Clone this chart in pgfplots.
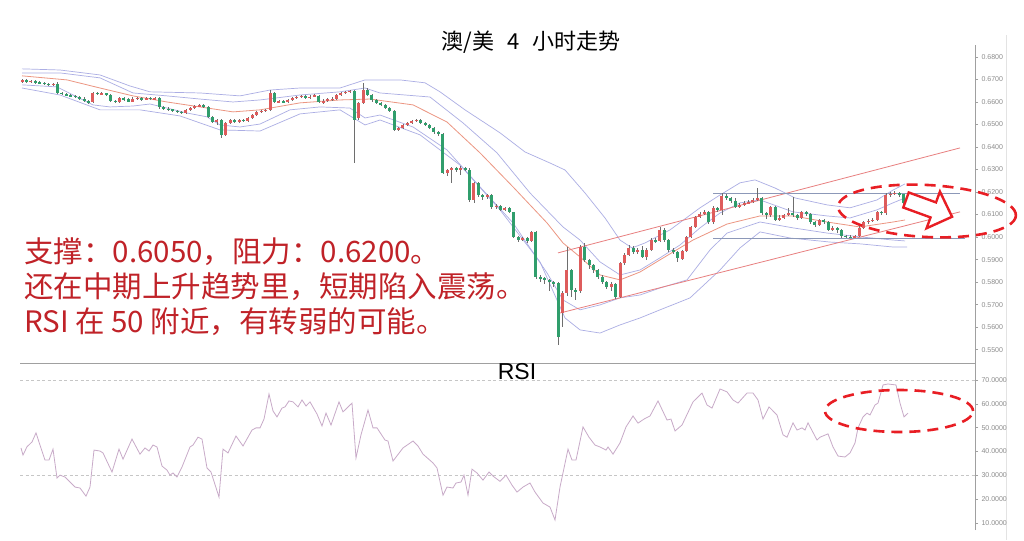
\documentclass[border=0pt]{standalone}
\usepackage{fontspec}
\setmainfont{Liberation Sans}
\newfontfamily\cjk{Noto Sans CJK SC}
\usepackage{pgfplots}
\usepackage{pgfplotstable}
\pgfplotsset{compat=1.18}
\definecolor{upc}{RGB}{222,92,92}
\definecolor{dnc}{RGB}{48,158,108}
\definecolor{wickc}{RGB}{110,110,110}
\definecolor{lav}{RGB}{172,174,228}
\definecolor{mac}{RGB}{236,150,130}
\definecolor{chan}{RGB}{232,128,128}
\definecolor{hlc}{RGB}{140,152,184}
\definecolor{rsic}{RGB}{200,170,200}
\definecolor{axg}{RGB}{160,160,160}
\definecolor{tlab}{RGB}{140,140,140}
\definecolor{annot}{RGB}{192,34,40}
\definecolor{ell}{RGB}{232,30,36}

\pgfplotstableread{
o h l c
6690 6700 6685 6695
6695 6700 6685 6690
6690 6698 6684 6692
6692 6697 6682 6688
6688 6694 6680 6685
6685 6690 6675 6680
6680 6686 6670 6676
6676 6684 6670 6680
6682 6690 6636 6640
6640 6645 6630 6636
6636 6640 6625 6630
6630 6636 6620 6627
6627 6632 6617 6622
6622 6627 6610 6615
6615 6620 6600 6605
6605 6610 6592 6598
6598 6645 6595 6640
6640 6646 6630 6636
6636 6644 6630 6638
6638 6642 6626 6632
6632 6636 6600 6605
6605 6610 6596 6600
6600 6622 6596 6618
6618 6622 6606 6612
6612 6618 6598 6602
6602 6620 6598 6614
6614 6624 6610 6618
6618 6622 6606 6612
6612 6624 6608 6618
6618 6622 6608 6614
6614 6622 6608 6616
6616 6620 6570 6576
6576 6580 6564 6570
6570 6576 6560 6566
6566 6570 6556 6562
6562 6566 6550 6556
6556 6560 6546 6551
6551 6570 6548 6565
6565 6578 6560 6574
6574 6586 6570 6580
6580 6590 6576 6585
6585 6590 6572 6578
6578 6582 6528 6534
6534 6540 6505 6511
6511 6526 6500 6522
6522 6526 6440 6454
6454 6512 6450 6507
6507 6525 6500 6520
6520 6525 6505 6511
6511 6526 6506 6520
6520 6524 6510 6516
6516 6534 6512 6529
6529 6548 6525 6542
6542 6560 6538 6556
6556 6566 6550 6560
6560 6570 6555 6565
6565 6655 6560 6640
6640 6644 6595 6600
6600 6610 6596 6604
6604 6610 6594 6600
6600 6614 6596 6609
6609 6622 6605 6618
6618 6628 6614 6622
6622 6632 6616 6627
6627 6632 6612 6618
6618 6630 6612 6624
6624 6634 6620 6628
6628 6630 6594 6598
6598 6612 6592 6606
6606 6618 6600 6610
6610 6620 6606 6614
6614 6636 6608 6631
6631 6646 6626 6640
6640 6650 6636 6645
6645 6655 6640 6650
6648 6654 6329 6520
6530 6600 6520 6596
6596 6685 6590 6653
6653 6660 6626 6631
6631 6636 6600 6609
6609 6614 6590 6596
6596 6600 6580 6587
6587 6592 6568 6574
6574 6580 6555 6560
6560 6565 6470 6476
6476 6490 6470 6485
6485 6502 6480 6498
6498 6512 6494 6507
6507 6520 6502 6516
6516 6526 6510 6520
6520 6525 6500 6507
6507 6512 6492 6498
6498 6502 6478 6485
6485 6490 6460 6467
6467 6470 6450 6458
6458 6462 6280 6285
6285 6303 6270 6298
6298 6312 6240 6307
6307 6312 6290 6298
6298 6315 6275 6307
6307 6312 6292 6300
6300 6305 6158 6165
6165 6246 6150 6241
6241 6246 6180 6187
6187 6192 6165 6178
6178 6192 6170 6187
6187 6192 6125 6134
6134 6145 6125 6138
6138 6142 6115 6121
6121 6135 6115 6130
6130 6135 6105 6110
6110 6112 5995 6001
6001 6005 5980 5987
5987 6002 5982 5996
5996 6000 5975 5983
5983 6028 5978 6023
6023 6028 5815 5823
5823 5830 5800 5818
5818 5825 5790 5810
5810 5815 5760 5800
5800 5805 5780 5796
5796 5800 5521 5557
5663 5760 5600 5752
5752 5956 5740 5854
5854 5860 5735 5765
5765 5775 5720 5760
5760 5965 5750 5956
5956 5975 5890 5899
5899 5905 5860 5876
5876 5880 5840 5854
5854 5860 5815 5823
5823 5830 5790 5800
5800 5805 5770 5779
5779 5800 5760 5790
5790 5795 5725 5734
5734 5890 5730 5885
5885 5930 5875 5921
5921 5965 5915 5952
5952 5960 5925 5935
5935 5950 5925 5943
5943 5960 5905 5910
5910 5950 5900 5945
5945 5995 5940 5987
5987 5995 5975 5982
5982 6045 5978 6032
6032 6040 5980 5987
5987 5992 5935 5943
5943 5950 5925 5935
5935 5940 5890 5905
5905 5945 5900 5940
5940 6005 5935 6001
6001 6050 5995 6045
6045 6095 6040 6090
6090 6110 6085 6103
6103 6120 6098 6112
6112 6118 6060 6067
6067 6140 6060 6130
6130 6135 6110 6121
6121 6195 6100 6183
6183 6190 6165 6174
6174 6180 6150 6160
6160 6175 6128 6134
6134 6150 6130 6143
6143 6160 6140 6150
6150 6165 6145 6156
6156 6175 6150 6165
6165 6220 6160 6174
6174 6180 6098 6107
6107 6112 6080 6098
6098 6140 6090 6134
6134 6140 6070 6076
6076 6100 6072 6085
6085 6104 6080 6098
6098 6130 6095 6107
6107 6180 6090 6098
6098 6102 6075 6085
6085 6118 6080 6112
6112 6118 6095 6103
6103 6108 6060 6067
6067 6070 6045 6054
6054 6080 6050 6076
6076 6080 6058 6067
6067 6072 6025 6032
6032 6048 6028 6041
6041 6045 6020 6032
6032 6038 5998 6005
6005 6010 5996 6001
6001 6008 5994 5998
5998 6010 5994 6005
6005 6048 6000 6041
6041 6072 6035 6067
6067 6080 6060 6072
6072 6085 6068 6076
6076 6118 6070 6112
6112 6118 6100 6107
6107 6195 6100 6187
6187 6200 6180 6192
6192 6205 6185 6196
6196 6200 6180 6190
6190 6192 6140 6150
}\candles

\pgfplotsset{
  chartax/.style={
    scale only axis, width=955pt, xmin=20, xmax=975,
    anchor=south west,
    axis y line*=right, axis x line=none,
    axis line style={-, draw=axg, line width=0.7pt},
    tick align=outside, major tick length=3pt,
    ytick style={draw=axg, line width=0.5pt},
    yticklabel style={font=\fontsize{7}{8}\selectfont, text=tlab},
    xtick=\empty,
  },
  candlebody/.style={only marks, mark=*, mark size=0pt, mark options={draw=none, fill=none},
    error bars/.cd, y dir=both, y explicit, error mark=none,
    error bar style={draw=#1, line width=3pt}},
}

\begin{document}
\begin{tikzpicture}
\path[fill=white] (0pt,0pt) rectangle (1024pt,540pt);
\draw[gray!22, line width=0.6pt] (1006pt,0pt) -- (1006pt,505pt);

% ---------------- price panel ----------------
\begin{axis}[chartax, at={(20pt,177pt)}, height=318pt,
  ymin=5441, ymax=6853,
  ytick={5500,5600,5700,5800,5900,6000,6100,6200,6300,6400,6500,6600,6700,6800},
  yticklabels={0.5500,0.5600,0.5700,0.5800,0.5900,0.6000,0.6100,0.6200,0.6300,0.6400,0.6500,0.6600,0.6700,0.6800}]

% bands
\addplot[lav, line width=0.7pt] coordinates {(22,6747) (60,6742) (100,6720) (130,6671) (150,6645) (200,6640) (240,6627) (270,6653) (300,6662) (340,6662) (365,6698) (400,6698) (425,6685) (440,6645) (465,6565) (500,6463) (525,6378) (550,6329) (565,6298) (585,6196) (605,6085) (620,5987) (632,5952) (645,5974) (670,6032) (700,6130) (720,6187) (740,6241) (755,6254) (775,6218) (795,6174) (827,6143) (850,6130) (877,6165) (893,6209) (905,6236)};
\addplot[lav, line width=0.7pt] coordinates {(22,6729) (60,6729) (100,6707) (133,6640) (167,6627) (200,6613) (233,6600) (260,6609) (300,6631) (340,6645) (365,6662) (380,6640) (430,6622) (463,6507) (497,6374) (530,6196) (563,6045) (580,5987) (600,5890) (620,5832) (640,5854) (660,5908) (680,5965) (700,6041) (720,6107) (740,6152) (760,6165) (793,6112) (827,6094) (850,6085) (877,6121) (893,6152) (905,6174)};
\addplot[mac, line width=0.8pt] coordinates {(22,6716) (67,6698) (100,6662) (133,6627) (167,6600) (200,6578) (233,6556) (260,6565) (300,6596) (340,6609) (370,6613) (413,6587) (447,6511) (480,6374) (513,6223) (547,6063) (563,5974) (580,5912) (600,5832) (620,5810) (640,5845) (660,5899) (693,5987) (727,6058) (760,6094) (793,6094) (827,6067) (860,6045) (893,6067) (905,6076)};
\addplot[lav, line width=0.7pt] coordinates {(22,6676) (57,6667) (77,6622) (93,6587) (110,6578) (133,6582) (150,6591) (167,6573) (187,6551) (207,6534) (220,6498) (240,6489) (260,6502) (290,6565) (320,6578) (350,6573) (365,6529) (380,6542) (413,6489) (447,6387) (480,6223) (513,6063) (547,5841) (563,5721) (580,5677) (600,5699) (620,5730) (640,5743) (660,5774) (687,5810) (710,5943) (727,6018) (760,6067) (793,6041) (827,6018) (860,6001) (893,5987) (905,5983)};
\addplot[lav, line width=0.7pt] coordinates {(22,6662) (60,6631) (100,6565) (140,6565) (180,6538) (220,6476) (260,6471) (300,6547) (340,6565) (365,6498) (380,6520) (420,6454) (460,6320) (500,6121) (540,5890) (565,5641) (580,5588) (600,5574) (620,5610) (640,5641) (660,5677) (690,5730) (720,5854) (740,5952) (760,6023) (790,5996) (830,5978) (860,5970) (893,5956) (907,5956)};

% channel and range lines
\addplot[chan, line width=0.8pt] coordinates {(558,5930) (960,6396)};
\addplot[chan, line width=0.8pt] coordinates {(560,5663) (960,6112)};
\addplot[hlc, line width=0.8pt] coordinates {(713,6192) (960,6192)};
\addplot[hlc, line width=0.8pt] coordinates {(713,5994) (965,5994)};

% wicks
\addplot[only marks, mark=*, mark size=0pt, mark options={draw=none, fill=none},
  error bars/.cd, y dir=both, y explicit, error mark=none,
  error bar style={draw=wickc, line width=0.6pt}]
  table[x expr={22+4.43*\coordindex}, y expr={(\thisrow{h}+\thisrow{l})/2},
        y error expr={(\thisrow{h}-\thisrow{l})/2}] {\candles};
% bodies
\addplot[candlebody=upc]
  table[x expr={22+4.43*\coordindex},
        y expr={\thisrow{c}<\thisrow{o} ? nan : (\thisrow{o}+\thisrow{c})/2},
        y error expr={max(abs(\thisrow{c}-\thisrow{o})/2,3)}] {\candles};
\addplot[candlebody=dnc]
  table[x expr={22+4.43*\coordindex},
        y expr={\thisrow{c}<\thisrow{o} ? (\thisrow{o}+\thisrow{c})/2 : nan},
        y error expr={max(abs(\thisrow{c}-\thisrow{o})/2,3)}] {\candles};
\end{axis}

% ---------------- RSI panel ----------------
\begin{axis}[chartax, at={(20pt,10pt)}, height=167pt,
  ymin=7.1, ymax=77.1,
  ytick={10,20,30,40,50,60,70},
  yticklabels={10.0000,20.0000,30.0000,40.0000,50.0000,60.0000,70.0000}]
\addplot[gray!45, line width=0.6pt, dash pattern=on 3pt off 2.5pt] coordinates {(20,70) (975,70)};
\addplot[gray!45, line width=0.6pt, dash pattern=on 3pt off 2.5pt] coordinates {(20,30) (975,30)};
\addplot[rsic, line width=0.8pt] coordinates {
(21,41.5) (23,38.5) (27,42) (32,44) (36,47.8) (40,42.7) (45,36.4) (49,36.4) (53,41) (57,28.9) (60,30.1) (65,29.3) (70,27.2) (75,25.1) (80,24.7) (86,21.3) (90,25.1) (94,40.6) (100,40.2) (103,39.4) (112,31.4) (119,41) (123,36.8) (132,45.2) (140,38.9) (145,41.5) (149,40.2) (153,42.7) (157,41.9) (162,33.9) (167,32.2) (170,30.1) (173,31) (177,29.3) (182,33.5) (190,41.9) (193,42.7) (198,46) (202,45.2) (207,33.1) (211,31.4) (219,20.9) (223,41) (228,39.4) (236,46.5) (243,42.3) (252,49) (256,49.9) (260,49.9) (264,53.6) (269,64.1) (273,57) (277,54.5) (282,58.2) (285,58.7) (289,61.2) (293,60.8) (298,58.7) (302,61.6) (306,59.1) (310,60.8) (317,55.7) (322,50.7) (326,56.1) (331,51.1) (339,60.8) (343,56.6) (352,60.3) (356,37.3) (361,47) (368,57.4) (373,49.9) (377,49.9) (385,44.8) (388,44.4) (393,36) (403,41.5) (413,44.4) (418,42.3) (423,38.9) (433,35.2) (437,33.1) (443,21.7) (447,25.1) (453,24.7) (456,26.8) (461,27.2) (464,30.1) (468,21.7) (472,32.6) (477,31) (483,28) (489,31.4) (493,29.7) (500,27.5) (506,30.1) (512,25.9) (517,23) (523,25.1) (530,26.8) (535,23) (543,18.4) (550,16.7) (555,11.3) (560,25.1) (568,41) (572,36.4) (576,36.4) (583,50.3) (589,46) (595,42.7) (600,41.9) (606,40.6) (608,41.9) (613,38.9) (620,43.6) (626,50.3) (633,54.9) (638,51.9) (644,53.6) (650,54.9) (658,61.2) (667,53.2) (671,53.6) (675,48.6) (682,51.1) (693,60.8) (702,64.5) (707,59.5) (712,58.2) (720,66.2) (727,65) (733,61.6) (738,60.3) (747,64.5) (753,64.5) (758,61.6) (763,53.6) (769,58.7) (777,55.3) (783,47) (787,46) (793,52) (797,49) (802,49.9) (805,49) (808,52) (817,44.8) (820,46) (828,47.4) (833,41.9) (838,38.1) (845,37.7) (850,39.4) (855,43.6) (858,49.9) (863,54.5) (867,56.1) (870,55.3) (875,59.5) (878,60.3) (883,67.9) (888,68.3) (896,67.9) (900,60.3) (904,54.5) (908,56.1)};
\end{axis}

% panel separator line
\draw[axg, line width=0.7pt] (20pt,177pt) -- (975pt,177pt);

% ---------------- annotations ----------------
\node[font=\cjk\fontsize{22}{26}\selectfont] at (531pt,498pt) {澳/美\hspace{13pt}4\hspace{13pt}小时走势};
\node[font=\fontsize{23}{26}\selectfont] at (517pt,168pt) {RSI};

\node[anchor=west, inner sep=0pt, text=annot, font=\cjk\fontsize{29.5}{33}\selectfont] at (24pt,288pt) {支撑：0.6050，阻力：0.6200。};
\node[anchor=west, inner sep=0pt, text=annot, font=\cjk\fontsize{29.5}{33}\selectfont] at (24pt,253pt) {还在中期上升趋势里，短期陷入震荡。};
\node[anchor=west, inner sep=0pt, text=annot, font=\cjk\fontsize{29.5}{33}\selectfont] at (24pt,218pt) {RSI 在 50 附近，有转弱的可能。};

\draw[ell, line width=2.6pt, dash pattern=on 11pt off 7pt, rotate around={-3:(927pt,329pt)}] (927pt,329pt) ellipse [x radius=89pt, y radius=26pt];
\draw[ell, line width=2.6pt, dash pattern=on 11pt off 7pt] (899pt,129pt) ellipse [x radius=74pt, y radius=21pt];

\begin{scope}[shift={(906pt,340pt)}, rotate=-20]
\draw[ell, line width=2.4pt, fill=white, line join=miter] (0pt,-8pt) -- (29pt,-8pt) -- (29pt,-19.5pt) -- (49pt,0pt) -- (29pt,19.5pt) -- (29pt,8pt) -- (0pt,8pt) -- cycle;
\end{scope}
\end{tikzpicture}
\end{document}
